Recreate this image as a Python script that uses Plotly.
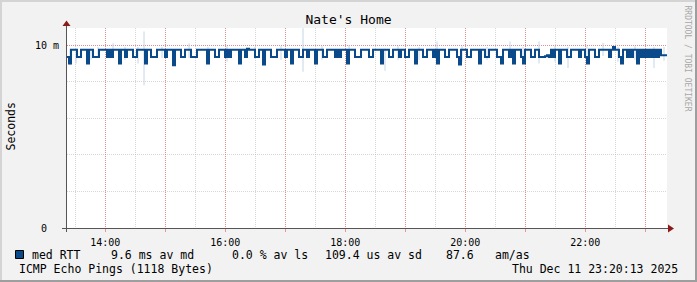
import plotly.graph_objects as go
from datetime import datetime, timedelta

# ---------------- data ----------------
start_time = datetime(2025, 12, 11, 13, 21, 42)
end_time = start_time + timedelta(minutes=600)
step_minutes = 2

med_rtt_ms = [
    # 13:22 - 14:22
    9.35, 9.0, 9.75, 9.75, 9.75, 9.35, 9.35, 9.75, 9.75, 9.75, 9.0, 9.75, 9.75, 9.35, 9.35,
    9.35, 9.75, 9.75, 9.75, 9.75, 9.35, 9.75, 9.35, 9.75, 9.75, 9.75, 9.0, 9.75, 9.75, 9.35,
    # 14:22 - 15:22
    9.75, 9.75, 9.75, 9.35, 9.35, 9.75, 9.75, 9.75, 9.75, 9.0, 9.75, 9.75, 9.35, 9.35, 9.35,
    9.75, 9.75, 9.75, 9.75, 9.35, 9.75, 9.75, 9.75, 8.9, 9.75, 9.75, 9.75, 9.35, 9.35, 9.75,
    # 15:22 - 16:22
    9.75, 9.75, 9.35, 9.35, 9.35, 9.75, 9.75, 9.75, 9.75, 9.75, 9.0, 9.75, 9.75, 9.75, 9.35,
    9.35, 9.75, 9.75, 9.75, 9.35, 9.75, 9.35, 9.75, 9.75, 9.75, 9.75, 9.0, 9.75, 9.75, 9.35,
    # 16:22 - 17:22
    9.8, 9.75, 9.75, 9.75, 9.35, 9.35, 9.75, 9.75, 8.95, 9.75, 9.75, 9.75, 9.35, 9.35, 9.35,
    9.75, 9.75, 9.75, 9.75, 9.35, 9.75, 9.75, 9.0, 9.75, 9.75, 9.75, 9.35, 9.35, 9.75, 9.75,
    # 17:22 - 18:22
    9.35, 9.75, 9.75, 9.75, 9.0, 9.75, 9.75, 9.75, 9.35, 9.35, 9.75, 9.75, 9.75, 9.75, 9.35,
    9.75, 9.35, 9.75, 9.75, 9.75, 9.0, 9.75, 9.75, 9.75, 9.35, 9.35, 9.35, 9.75, 9.75, 9.75,
    # 18:22 - 19:22
    9.75, 9.35, 9.35, 9.75, 9.75, 9.75, 9.75, 9.0, 9.75, 9.75, 9.75, 9.35, 9.35, 9.75, 9.75,
    9.75, 9.35, 9.75, 9.75, 9.35, 9.35, 9.75, 9.75, 9.75, 9.0, 9.75, 9.75, 9.75, 9.35, 9.35,
    # 19:22 - 20:22
    9.75, 9.75, 9.75, 9.35, 9.75, 9.0, 9.75, 9.75, 9.75, 9.35, 9.35, 9.75, 9.75, 9.75, 9.75,
    9.35, 8.95, 9.75, 9.75, 9.75, 9.35, 9.35, 9.75, 9.75, 9.75, 9.75, 9.0, 9.75, 9.75, 9.35,
    # 20:22 - 21:22
    9.35, 9.75, 9.75, 9.75, 9.75, 9.35, 9.35, 9.0, 9.75, 9.75, 9.75, 9.35, 9.75, 9.0, 9.75,
    9.75, 9.75, 9.35, 9.0, 9.75, 9.75, 9.75, 9.35, 9.35, 9.75, 9.75, 9.35, 9.35, 9.35, 9.4,
    # 21:22 - 22:22
    9.45, 9.35, 9.75, 9.35, 9.75, 9.75, 9.0, 9.75, 9.75, 9.75, 9.35, 9.35, 9.75, 9.75, 9.75,
    9.75, 9.35, 9.75, 9.75, 9.35, 9.0, 9.75, 9.75, 9.75, 9.35, 9.35, 9.75, 9.75, 9.75, 9.75,
    # 22:22 - 23:22
    9.75, 9.35, 9.75, 9.9, 9.75, 9.75, 9.35, 9.0, 9.75, 9.75, 9.35, 9.75, 9.35, 9.75, 9.75,
    9.0, 9.75, 9.35, 9.75, 9.35, 9.75, 9.35, 9.75, 9.35, 9.75, 9.35, 9.75, 9.45, 9.45, 9.45,
]

# smoke spikes: minute offset from start, low and high (ms)
smoke_minute = [3, 9, 24, 31, 46, 58, 71, 77, 95, 122, 141, 160, 188, 214, 236, 255, 282, 318, 331,
                352, 370, 395, 420, 443, 456, 472, 488, 501, 520, 536, 551, 568, 587, 597]
smoke_low_ms = [8.9, 9.0, 9.2, 9.3, 9.4, 9.2, 9.0, 7.8, 9.3, 9.3, 9.2, 9.1, 9.25, 9.2, 8.55, 9.2, 9.1, 8.6, 9.2,
                9.2, 9.3, 9.1, 9.2, 9.4, 9.0, 9.0, 9.1, 8.75, 9.2, 9.4, 9.1, 9.2, 8.75, 9.15]
smoke_high_ms = [9.8, 9.8, 9.8, 9.9, 10.1, 9.9, 9.9, 10.75, 9.9, 10.1, 9.9, 9.95, 9.9, 9.95, 10.93, 9.95, 10.0,
                 9.8, 9.95, 9.9, 10.2, 9.95, 9.9, 10.2, 9.9, 10.2, 9.95, 9.9, 9.95, 10.13, 9.9, 9.95, 9.9, 9.9]

x_tick_labels = ["14:00", "", "16:00", "", "18:00", "", "20:00", "", "22:00", ""]
y_tick_labels = ["0\u00a0\u00a0", "10 m"]
y_tick_values = [0, 0.010]

legend_parts = ["med RTT", "9.6 ms av md", "0.0 % av ls", "109.4 us av sd", "87.6", "am/as"]
legend_part_px = [30, 109, 230, 323, 444, 493]

# ---------------- styling ----------------
W, H = 697, 282
PL, PR, PT, PB = 67, 667, 28, 228
FONT = "DejaVu Sans Mono"
LINE_COLOR = "#0a4a8a"
SMOKE_COLOR = "#c4d4e6"
MGRID = "rgba(230,110,110,0.7)"
GRID = "rgba(180,180,180,0.55)"


def px_x(px):
    return (px - PL) / (PR - PL)


def px_y(py):
    return (PB - py) / (PB - PT)


times = [start_time + timedelta(minutes=step_minutes * i) for i in range(len(med_rtt_ms))]
med_sec = [v / 1000.0 for v in med_rtt_ms]
times_step = times + [end_time]
med_step = med_sec + [med_sec[-1]]

sx, sy = [], []
for m, lo, hi in zip(smoke_minute, smoke_low_ms, smoke_high_ms):
    t = start_time + timedelta(minutes=m)
    sx += [t, t, None]
    sy += [lo / 1000.0, hi / 1000.0, None]

fig = go.Figure()
fig.add_trace(go.Scatter(x=sx, y=sy, mode="lines", line=dict(color=SMOKE_COLOR, width=1),
                         showlegend=False, hoverinfo="skip"))
fig.add_trace(go.Scatter(x=times_step, y=med_step, mode="lines", line=dict(color=LINE_COLOR, width=2, shape="hv"),
                         showlegend=False))

hour_ticks = [datetime(2025, 12, 11, h, 0, 0) for h in range(14, 24)]

fig.update_layout(
    width=W, height=H,
    margin=dict(l=PL, r=W - PR, t=PT, b=H - PB),
    paper_bgcolor="#f2f2f2",
    plot_bgcolor="#ffffff",
    showlegend=False,
    font=dict(family=FONT, size=10, color="#000000"),
    title=dict(text="Nate's Home", x=0.5, xanchor="center", y=1 - 19 / H, yanchor="middle",
               font=dict(family=FONT, size=13, color="#000000")),
    xaxis=dict(
        range=[start_time, end_time], type="date",
        tickvals=hour_ticks, ticktext=x_tick_labels,
        showgrid=True, gridcolor=MGRID, griddash="1px,1px", gridwidth=1,
        ticks="outside", ticklen=3, tickcolor=MGRID, tickwidth=1,
        ticklabelstandoff=2,
        minor=dict(dtick=30 * 60 * 1000, tick0=datetime(2025, 12, 11, 13, 30), showgrid=True,
                   gridcolor=GRID, griddash="1px,1px", ticks=""),
        showline=False, zeroline=False, tickfont=dict(size=10, family=FONT),
    ),
    yaxis=dict(
        range=[0, 0.01094],
        tickvals=y_tick_values, ticktext=y_tick_labels,
        showgrid=True, gridcolor=MGRID, griddash="1px,1px",
        minor=dict(dtick=0.002, tick0=0, showgrid=True, gridcolor=GRID, griddash="1px,1px", ticks=""),
        ticks="", ticklabelstandoff=7, showline=False, zeroline=False,
        tickfont=dict(size=10, family=FONT),
    ),
)

shapes = []
# axis lines
shapes.append(dict(type="line", xref="paper", yref="paper", x0=px_x(62), x1=px_x(669), y0=px_y(228.5), y1=px_y(228.5),
                   line=dict(color="#555555", width=1)))
shapes.append(dict(type="line", xref="paper", yref="paper", x0=px_x(66.5), x1=px_x(66.5), y0=px_y(232), y1=px_y(25),
                   line=dict(color="#555555", width=1)))
# arrows
shapes.append(dict(type="path", xref="paper", yref="paper",
                   path=f"M {px_x(674)} {px_y(228.5)} L {px_x(668)} {px_y(224.5)} L {px_x(668)} {px_y(232.5)} Z",
                   fillcolor="#8b1a1a", line=dict(width=0)))
shapes.append(dict(type="path", xref="paper", yref="paper",
                   path=f"M {px_x(66.5)} {px_y(20.5)} L {px_x(62.5)} {px_y(26)} L {px_x(70.5)} {px_y(26)} Z",
                   fillcolor="#8b1a1a", line=dict(width=0)))
# outer frame
shapes.append(dict(type="rect", xref="paper", yref="paper", x0=px_x(0), x1=px_x(697), y0=px_y(0), y1=px_y(2),
                   fillcolor="#d4d4d4", line=dict(width=0), layer="below"))
shapes.append(dict(type="rect", xref="paper", yref="paper", x0=px_x(0), x1=px_x(2), y0=px_y(0), y1=px_y(282),
                   fillcolor="#d4d4d4", line=dict(width=0), layer="below"))
shapes.append(dict(type="rect", xref="paper", yref="paper", x0=px_x(695), x1=px_x(697), y0=px_y(0), y1=px_y(282),
                   fillcolor="#9e9e9e", line=dict(width=0)))
shapes.append(dict(type="rect", xref="paper", yref="paper", x0=px_x(0), x1=px_x(697), y0=px_y(280), y1=px_y(282),
                   fillcolor="#9e9e9e", line=dict(width=0)))
# legend square
shapes.append(dict(type="rect", xref="paper", yref="paper", x0=px_x(15.5), x1=px_x(23.5), y0=px_y(258.5), y1=px_y(250.5),
                   fillcolor=LINE_COLOR, line=dict(color="#000000", width=1)))
fig.update_layout(shapes=shapes)

ann = []
for txt, px in zip(legend_parts, legend_part_px):
    ann.append(dict(text=txt, xref="paper", yref="paper", x=px_x(px), y=px_y(254.5), xanchor="left", yanchor="middle",
                    showarrow=False, font=dict(family=FONT, size=11.5, color="#000000")))
ann.append(dict(text="ICMP Echo Pings (1118 Bytes)", xref="paper", yref="paper", x=px_x(16.5), y=px_y(268.5),
                xanchor="left", yanchor="middle", showarrow=False, font=dict(family=FONT, size=11.5, color="#000000")))
ann.append(dict(text="Thu Dec 11 23:20:13 2025", xref="paper", yref="paper", x=px_x(680), y=px_y(268.5),
                xanchor="right", yanchor="middle", showarrow=False, font=dict(family=FONT, size=11.5, color="#000000")))
ann.append(dict(text="Seconds", xref="paper", yref="paper", x=px_x(10.5), y=px_y(127), textangle=-90,
                xanchor="center", yanchor="middle", showarrow=False, font=dict(family=FONT, size=11.5, color="#000000")))
ann.append(dict(text="RRDTOOL / TOBI OETIKER", xref="paper", yref="paper", x=px_x(687), y=px_y(58.5), textangle=90,
                xanchor="center", yanchor="middle", showarrow=False, font=dict(family=FONT, size=8, color="#a8a8a8")))
fig.update_layout(annotations=ann)

fig.write_html("out.html")
